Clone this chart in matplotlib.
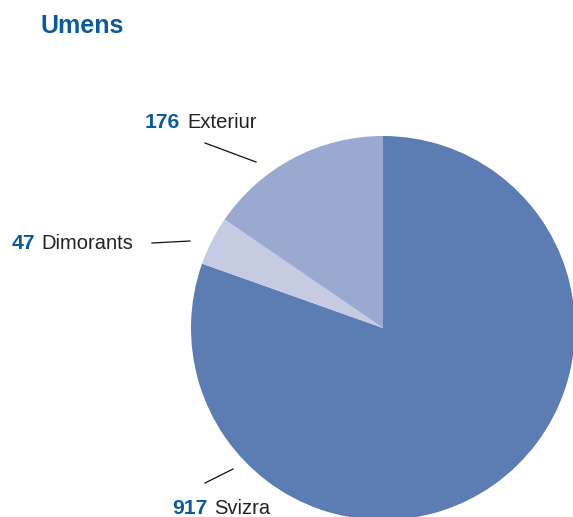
import matplotlib
matplotlib.use("Agg")
import matplotlib.pyplot as plt

title = "Umens"
categories = ["Svizra", "Dimorants", "Exteriur"]
values = [917, 47, 176]
colors = ["#5b7db3", "#c5cbe2", "#9aa9cf"]

W, H = 573, 517
fig = plt.figure(figsize=(W / 100, H / 100), dpi=100)
ax = fig.add_axes([0, 0, 1, 1])
ax.set_xlim(0, W)
ax.set_ylim(0, H)
ax.set_aspect("equal")
ax.axis("off")

cx, cy, r = 383, H - 328, 192
ax.pie(values, colors=colors, startangle=90, counterclock=False,
       center=(cx, cy), radius=r, frame=True,
       wedgeprops=dict(linewidth=0))
ax.set_xlim(0, W)
ax.set_ylim(0, H)
ax.axis("off")

blue = "#0b5a9b"
fam = "Liberation Sans"
fig.text(40 / W, 1 - 33 / H, title, color=blue, fontsize=18, fontweight="bold",
         family=fam, ha="left", va="baseline")

# label positions (number start x, name start x, baseline y) and leader lines
labels = {
    "Exteriur": ((145, 187, 128), ((205, 143), (256, 162))),
    "Dimorants": ((12, 41, 249), ((152, 243), (190, 241))),
    "Svizra": ((172, 214, 514), ((205, 483), (233, 469))),
}
for cat, val in zip(categories, values):
    (xn, xt, yb), ((x0, y0), (x1, y1)) = labels[cat]
    ax.text(xn, H - yb, str(val), color=blue, fontsize=15.2, fontweight="bold",
            family=fam, ha="left", va="baseline")
    ax.text(xt, H - yb, cat, color="#222222", fontsize=14.5,
            family=fam, ha="left", va="baseline")
    ax.plot([x0, x1], [H - y0, H - y1], color="#111111", lw=0.9)

fig.savefig("out.png", dpi=100)
